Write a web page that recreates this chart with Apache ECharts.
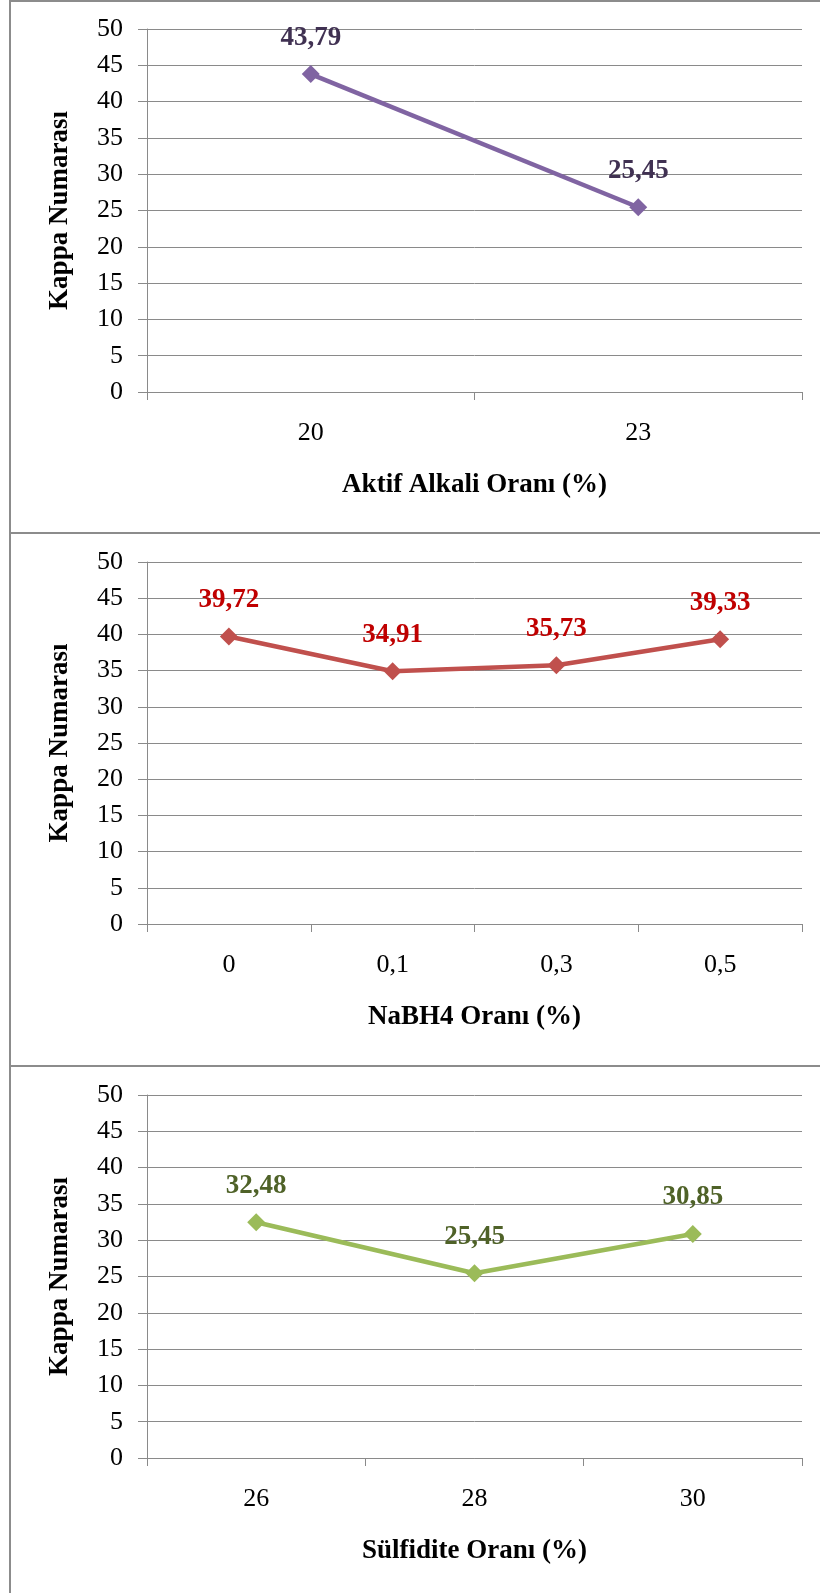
<!DOCTYPE html>
<html>
<head>
<meta charset="utf-8">
<script src="https://cdn.jsdelivr.net/npm/echarts@6/dist/echarts.min.js"></script>
<style>
  html, body { margin: 0; padding: 0; background: #ffffff; }
  #chart { width: 820px; height: 1593px; }
</style>
</head>
<body>
<div id="chart"></div>
<script>
// Kappa numbers for three pulping parameters
const yAxisTitle = 'Kappa Numarası';
const yTicks = { min: 0, max: 50, interval: 5 };

const alkaliCategories = ['20', '23'];
const alkaliValues = [43.79, 25.45];
const alkaliTitle = 'Aktif Alkali Oranı (%)';

const nabh4Categories = ['0', '0,1', '0,3', '0,5'];
const nabh4Values = [39.72, 34.91, 35.73, 39.33];
const nabh4Title = 'NaBH4 Oranı (%)';

const sulfidityCategories = ['26', '28', '30'];
const sulfidityValues = [32.48, 25.45, 30.85];
const sulfidityTitle = 'Sülfidite Oranı (%)';

const SERIF = '"Liberation Serif", "Times New Roman", "DejaVu Serif", serif';
const GRID_GRAY = '#8a8a8a';
const FRAME_GRAY = '#8c8c8c';

const panels = [
  { cats: alkaliCategories, vals: alkaliValues, title: alkaliTitle,
    line: '#8064A2', label: '#403152', top: 29, bottom: 1201 },
  { cats: nabh4Categories, vals: nabh4Values, title: nabh4Title,
    line: '#C0504D', label: '#C00000', top: 562, bottom: 669 },
  { cats: sulfidityCategories, vals: sulfidityValues, title: sulfidityTitle,
    line: '#9BBB59', label: '#4F6228', top: 1095, bottom: 135 }
];

const commaDecimal = v => v.toFixed(2).replace('.', ',');

const option = {
  backgroundColor: '#ffffff',
  animation: false,
  grid: panels.map(p => ({ left: 147, right: 18, top: p.top, bottom: p.bottom, containLabel: false })),
  xAxis: panels.map((p, i) => ({
    type: 'category',
    gridIndex: i,
    data: p.cats,
    boundaryGap: true,
    name: p.title,
    nameLocation: 'middle',
    nameGap: 80,
    nameTextStyle: { fontFamily: SERIF, fontSize: 27, fontWeight: 'bold', color: '#000' },
    axisLine: { show: true, lineStyle: { color: GRID_GRAY, width: 1 } },
    axisTick: { show: true, length: 8, inside: false, alignWithLabel: false, lineStyle: { color: GRID_GRAY } },
    axisLabel: { margin: 28, fontFamily: SERIF, fontSize: 26, color: '#000' },
    splitLine: { show: false }
  })),
  yAxis: panels.map((p, i) => ({
    type: 'value',
    gridIndex: i,
    min: yTicks.min,
    max: yTicks.max,
    interval: yTicks.interval,
    name: yAxisTitle,
    nameLocation: 'middle',
    nameGap: 73,
    nameTextStyle: { fontFamily: SERIF, fontSize: 27, fontWeight: 'bold', color: '#000' },
    axisLine: { show: true, lineStyle: { color: GRID_GRAY, width: 1 } },
    axisTick: { show: true, length: 9, inside: false, lineStyle: { color: GRID_GRAY } },
    axisLabel: { margin: 24, fontFamily: SERIF, fontSize: 26, color: '#000' },
    splitLine: { show: true, lineStyle: { color: GRID_GRAY, width: 1 } }
  })),
  series: panels.map((p, i) => ({
    type: 'line',
    xAxisIndex: i,
    yAxisIndex: i,
    data: p.vals,
    symbol: 'diamond',
    symbolSize: 18,
    lineStyle: { color: p.line, width: 4.5 },
    itemStyle: { color: p.line },
    label: {
      show: true,
      position: 'top',
      distance: 14,
      formatter: params => commaDecimal(params.value),
      fontFamily: SERIF,
      fontSize: 27,
      fontWeight: 'bold',
      color: p.label
    },
    z: 3
  })),
  // panel frames
  graphic: [
    { type: 'line', shape: { x1: 10, y1: 0, x2: 10, y2: 1593 }, style: { stroke: FRAME_GRAY, lineWidth: 2 } },
    { type: 'line', shape: { x1: 10, y1: 1, x2: 820, y2: 1 }, style: { stroke: FRAME_GRAY, lineWidth: 2 } },
    { type: 'line', shape: { x1: 10, y1: 533, x2: 820, y2: 533 }, style: { stroke: FRAME_GRAY, lineWidth: 2 } },
    { type: 'line', shape: { x1: 10, y1: 1066, x2: 820, y2: 1066 }, style: { stroke: FRAME_GRAY, lineWidth: 2 } }
  ]
};

const chart = echarts.init(document.getElementById('chart'), null, { renderer: 'canvas' });
chart.setOption(option);
</script>
</body>
</html>
